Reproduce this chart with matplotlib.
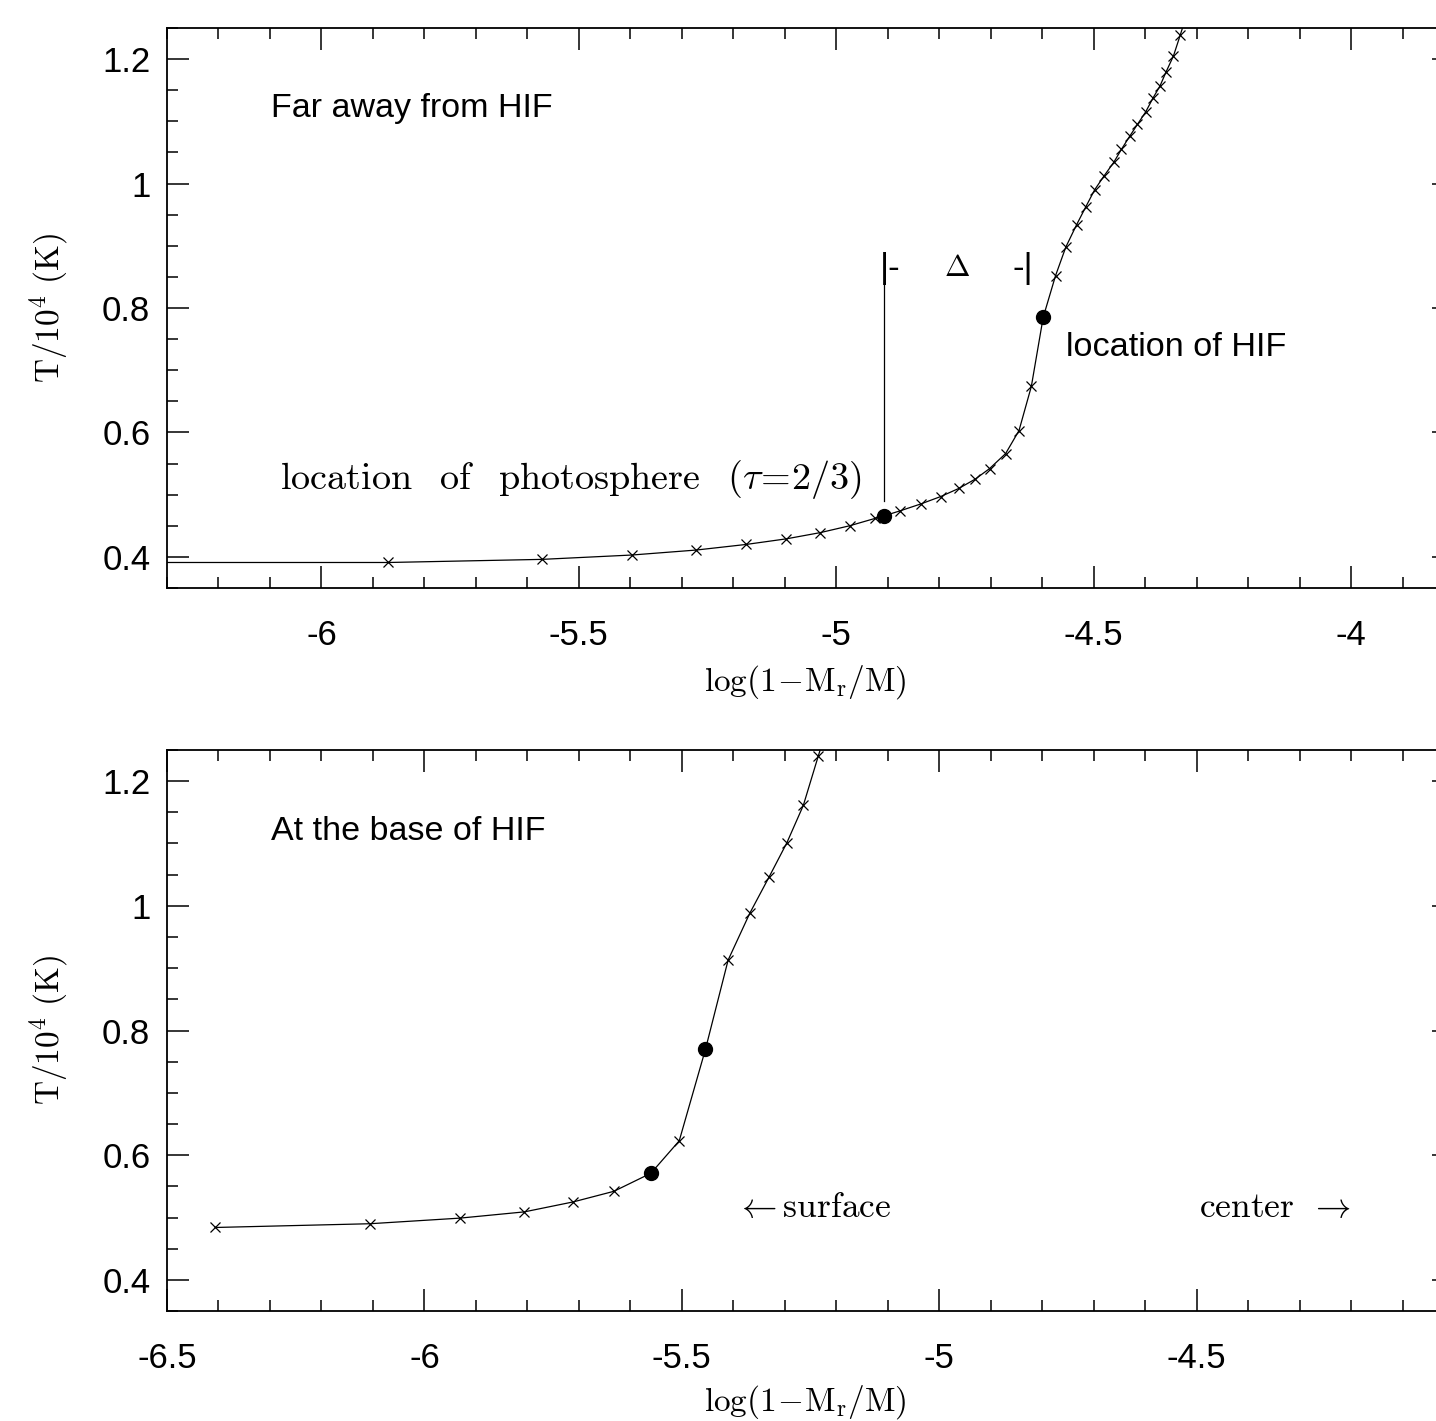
import numpy as np
import matplotlib
matplotlib.use("Agg")
import matplotlib.pyplot as plt
from matplotlib.ticker import MultipleLocator

plt.rcParams['mathtext.fontset'] = 'cm'
plt.rcParams['font.family'] = ['Liberation Sans', 'DejaVu Sans']

# ---------------- data ----------------
# top panel: "Far away from HIF"
top_cross_x = [-6.45, -5.870, -5.572, -5.397, -5.272, -5.175, -5.097, -5.031, -4.974, -4.924,
               -4.876, -4.836, -4.797, -4.762, -4.730, -4.702, -4.671, -4.645, -4.621,
               -4.574, -4.554, -4.533, -4.515, -4.498, -4.480, -4.461, -4.446, -4.430,
               -4.415, -4.399, -4.385, -4.371, -4.359, -4.345, -4.332, -4.318]
top_cross_T = [0.391, 0.391, 0.396, 0.403, 0.411, 0.420, 0.429, 0.439, 0.450, 0.462,
               0.474, 0.485, 0.497, 0.510, 0.525, 0.542, 0.566, 0.603, 0.674,
               0.852, 0.898, 0.934, 0.963, 0.990, 1.012, 1.034, 1.055, 1.076,
               1.095, 1.115, 1.137, 1.157, 1.180, 1.205, 1.238, 1.275]
top_dot_x = [-4.907, -4.598]   # photosphere, HIF
top_dot_T = [0.466, 0.785]

# bottom panel: "At the base of HIF"
bot_cross_x = [-6.406, -6.106, -5.931, -5.806, -5.711, -5.632, -5.505,
               -5.410, -5.368, -5.330, -5.296, -5.264, -5.235, -5.222]
bot_cross_T = [0.484, 0.490, 0.499, 0.509, 0.525, 0.542, 0.623,
               0.913, 0.988, 1.047, 1.101, 1.161, 1.240, 1.275]
bot_dot_x = [-5.560, -5.454]
bot_dot_T = [0.571, 0.770]

top_xlim = (-6.3, -3.8)
bot_xlim = (-6.5, -4.0)
ylim = (0.35, 1.25)

# ---------------- figure ----------------
W, H = 1436, 1421
fig = plt.figure(figsize=(W / 100, H / 100), dpi=100)
ax1 = fig.add_axes([167 / W, (H - 588) / H, 1287 / W, 560 / H])
ax2 = fig.add_axes([167 / W, (H - 1311) / H, 1287 / W, 561 / H])


def draw(ax, cx, cT, dx, dT, xlim):
    allx = np.concatenate([cx, dx])
    allT = np.concatenate([cT, dT])
    order = np.argsort(allx)
    ax.plot(allx[order], allT[order], color='black', lw=0.9, zorder=2)
    ax.plot(cx, cT, ls='none', marker='x', ms=7, mew=0.9, color='black', zorder=3)
    ax.plot(dx, dT, ls='none', marker='o', ms=10, color='black', zorder=4)
    ax.set_xlim(*xlim)
    ax.set_ylim(*ylim)
    ax.xaxis.set_major_locator(MultipleLocator(0.5))
    ax.xaxis.set_minor_locator(MultipleLocator(0.1))
    ax.yaxis.set_major_locator(MultipleLocator(0.2))
    ax.yaxis.set_minor_locator(MultipleLocator(0.05))
    ax.xaxis.set_major_formatter(plt.FuncFormatter(lambda v, p: ('%g' % round(v, 2))))
    ax.yaxis.set_major_formatter(plt.FuncFormatter(lambda v, p: ('%g' % round(v, 2))))
    ax.tick_params(which='both', direction='in', top=True, right=True, width=1.1,
                   labelsize=25)
    ax.tick_params(which='major', length=16)
    ax.tick_params(which='minor', length=8)
    ax.tick_params(axis='x', pad=22)
    ax.tick_params(axis='y', pad=12)
    for s in ax.spines.values():
        s.set_linewidth(1.3)
    ax.set_ylabel(r'$\mathrm{T/10^4\ (K)}$', fontsize=24)
    ax.yaxis.set_label_coords(-0.075, 0.5)
    ax.set_xlabel(r'$\mathrm{log(1\!-\!M_r/M)}$', fontsize=24)


draw(ax1, top_cross_x, top_cross_T, top_dot_x, top_dot_T, top_xlim)
ax1.xaxis.set_label_coords(0.496, -0.134)
draw(ax2, bot_cross_x, bot_cross_T, bot_dot_x, bot_dot_T, bot_xlim)
ax2.xaxis.set_label_coords(0.496, -0.128)

# ---------------- annotations ----------------
ax1.text(-6.098, 1.120, 'Far away from HIF', fontsize=24.5, va='center', ha='left')
ax1.text(-4.554, 0.737, 'location of HIF', fontsize=24.7, va='center', ha='left')
ax1.text(-4.950, 0.524, r'$\mathrm{location\ \ \,of\ \ \,photosphere\ \ \,(\tau\!=\!2/3)}$',
         fontsize=27.5, va='center', ha='right')
ax1.plot([top_dot_x[0], top_dot_x[0]], [0.49, 0.84], color='black', lw=0.9)
ax1.text(top_dot_x[0] - 0.008, 0.864, '|-', fontsize=25, va='center', ha='left')
ax1.text(-4.618, 0.864, '-|', fontsize=25, va='center', ha='right')
ax1.text(-4.766, 0.864, r'$\Delta$', fontsize=22, va='center', ha='center')

ax2.text(-5.396, 0.516, r'$\leftarrow\mathrm{surface}$', fontsize=25.5, va='center', ha='left')
ax2.text(-4.201, 0.516, r'$\mathrm{center}\ \,\rightarrow$', fontsize=25.5, va='center', ha='right')
ax2.text(-6.298, 1.120, 'At the base of HIF', fontsize=24.5, va='center', ha='left')

fig.savefig('out.png', dpi=100)
